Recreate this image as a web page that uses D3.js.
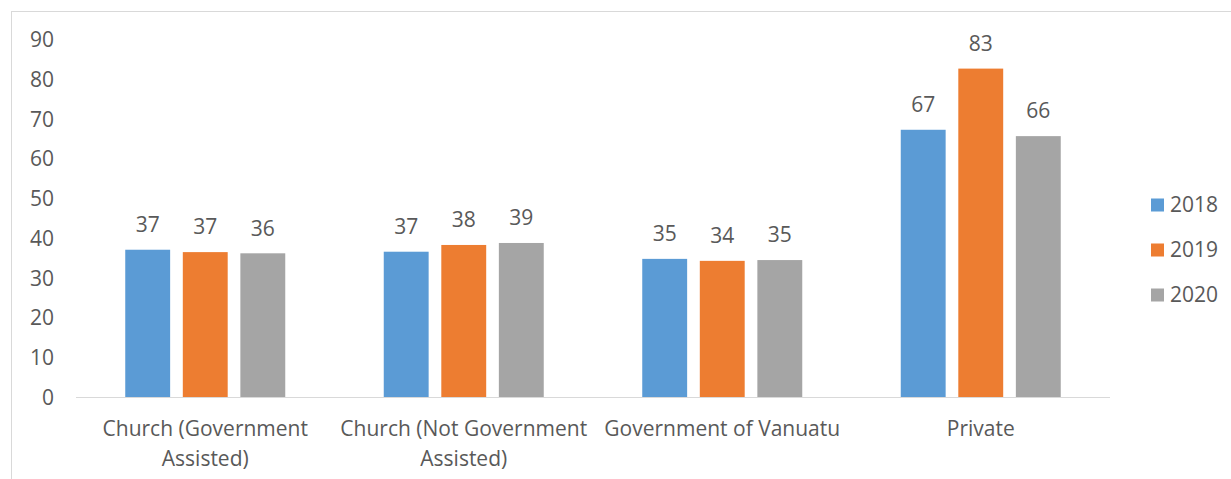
<!DOCTYPE html>
<html>
<head>
<meta charset="utf-8">
<script src="https://cdn.jsdelivr.net/npm/d3@7"></script>
<style>
  body { margin: 0; background: #fff; }
  text { font-family: "Open Sans", sans-serif; fill: #595959; }
</style>
</head>
<body>
<div id="main"></div>
<script>
'use strict';

// chart data
var categories = ['Church (Government Assisted)', 'Church (Not Government Assisted)', 'Government of Vanuatu', 'Private'];
var years = ['2018', '2019', '2020'];
var values2018 = [37.2, 36.7, 34.9, 67.4];
var values2019 = [36.6, 38.4, 34.4, 82.8];
var values2020 = [36.3, 38.9, 34.6, 65.8];
var yTicks = [0, 10, 20, 30, 40, 50, 60, 70, 80, 90];
var colors = ['#5b9bd5', '#ed7d31', '#a5a5a5'];

var series = [values2018, values2019, values2020];
var fontSize = 21;

var width = 1231, height = 479;
var svg = d3.select('#main').append('svg')
  .attr('width', width).attr('height', height);

// chart frame
svg.append('rect')
  .attr('x', 11.5).attr('y', 11.5)
  .attr('width', width + 20).attr('height', height + 20)
  .attr('fill', 'none').attr('stroke', '#d9d9d9');

var x0 = d3.scaleBand().domain(categories).range([76, 1110]);
var x1 = d3.scaleBand().domain(years).range([0, 160]).paddingInner(0.22);
var y = d3.scaleLinear().domain([0, 90]).range([397.5, 40]);

// y axis labels (no line)
var yAxis = d3.axisLeft(y).tickValues(yTicks).tickSize(0).tickPadding(0);
svg.append('g')
  .attr('transform', 'translate(54,0)')
  .call(yAxis)
  .call(function(g) { g.select('.domain').remove(); })
  .selectAll('text')
  .attr('font-size', fontSize).attr('fill', '#595959')
  .attr('font-family', '"Open Sans", sans-serif');

var groups = svg.append('g').selectAll('g')
  .data(categories).enter()
  .append('g')
  .attr('transform', function(d) { return 'translate(' + (x0(d) + x0.bandwidth() / 2 - 80) + ',0)'; });

groups.selectAll('rect')
  .data(function(d, i) { return years.map(function(yr, j) { return { yr: yr, v: series[j][i], c: colors[j] }; }); })
  .enter().append('rect')
  .attr('x', function(d) { return x1(d.yr); })
  .attr('y', function(d) { return y(d.v); })
  .attr('width', x1.bandwidth())
  .attr('height', function(d) { return y(0) - y(d.v); })
  .attr('fill', function(d) { return d.c; });

groups.selectAll('text.lbl')
  .data(function(d, i) { return years.map(function(yr, j) { return { yr: yr, v: series[j][i] }; }); })
  .enter().append('text')
  .attr('class', 'lbl')
  .attr('x', function(d) { return x1(d.yr) + x1.bandwidth() / 2; })
  .attr('y', function(d) { return y(d.v) - 25; })
  .attr('dy', '0.35em')
  .attr('text-anchor', 'middle')
  .attr('font-size', fontSize)
  .text(function(d) { return Math.round(d.v); });

// x axis line
svg.append('line')
  .attr('x1', 76).attr('x2', 1110)
  .attr('y1', 397.5).attr('y2', 397.5)
  .attr('stroke', '#d9d9d9');

// category labels, wrapped to the band width
var catText = svg.append('g').selectAll('text')
  .data(categories).enter()
  .append('text')
  .attr('text-anchor', 'middle')
  .attr('font-size', fontSize)
  .attr('x', function(d) { return x0(d) + x0.bandwidth() / 2; })
  .attr('y', 429);

catText.each(function(d) {
  var el = d3.select(this);
  var words = d.split(' ');
  var line = [];
  var ts = el.append('tspan').attr('x', el.attr('x')).attr('dy', '0.35em');
  words.forEach(function(w) {
    line.push(w);
    ts.text(line.join(' '));
    if (ts.node().getComputedTextLength() > 256 && line.length > 1) {
      line.pop();
      ts.text(line.join(' '));
      line = [w];
      ts = el.append('tspan').attr('x', el.attr('x')).attr('dy', 30).text(w);
    }
  });
});

// legend
var legend = svg.append('g').selectAll('g')
  .data(years).enter()
  .append('g')
  .attr('transform', function(d, i) { return 'translate(1151,' + (205 + i * 45) + ')'; });

legend.append('rect')
  .attr('x', 0).attr('y', -6.5)
  .attr('width', 13).attr('height', 13)
  .attr('fill', function(d, i) { return colors[i]; });

legend.append('text')
  .attr('x', 19).attr('dy', '0.35em')
  .attr('font-size', fontSize)
  .text(function(d) { return d; });
</script>
</body>
</html>
